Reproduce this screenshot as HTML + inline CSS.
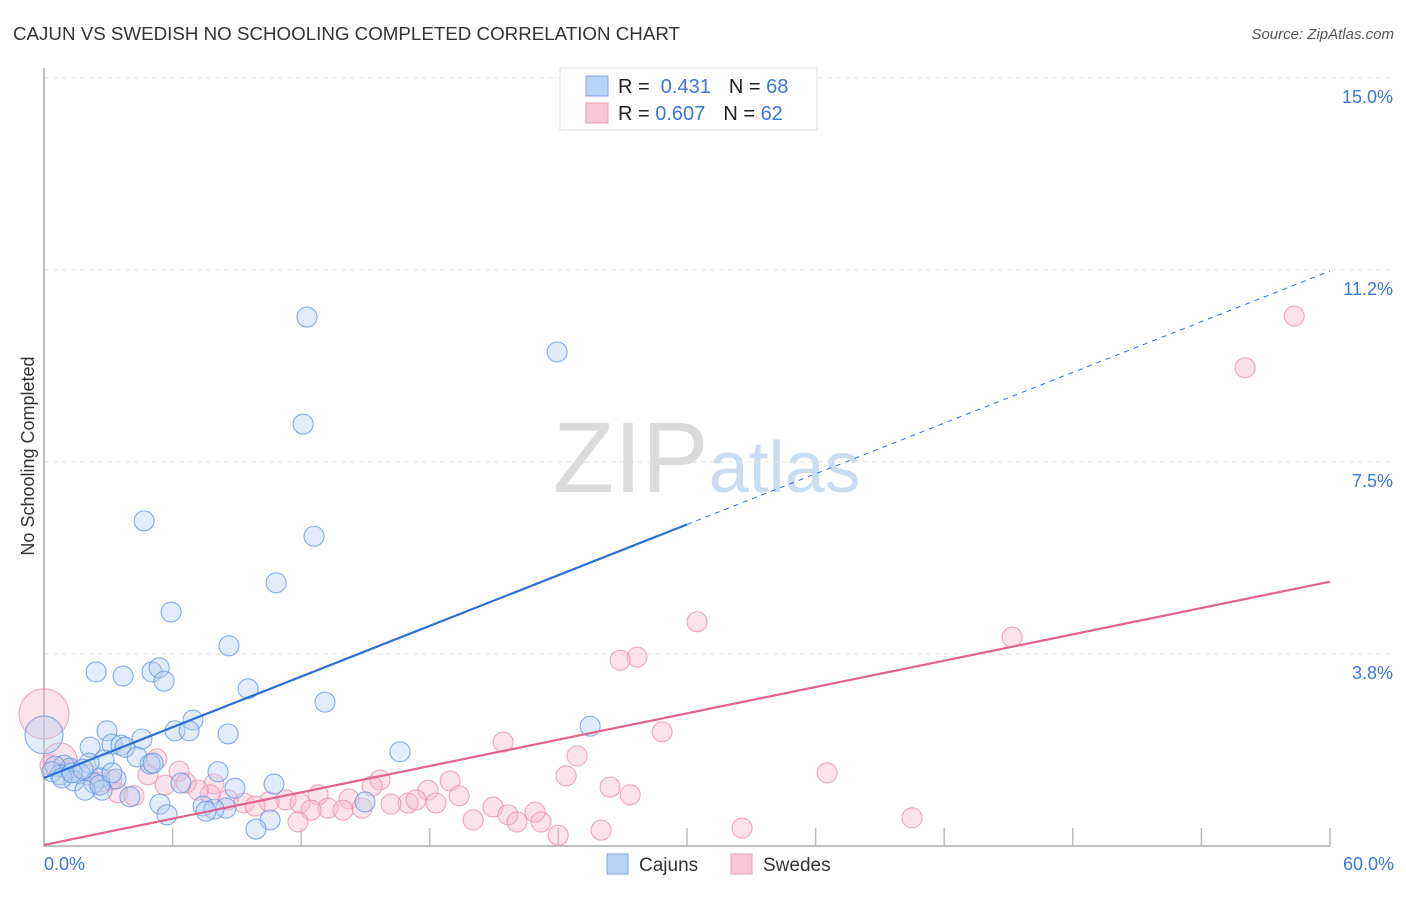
<!DOCTYPE html>
<html><head><meta charset="utf-8"><style>
body{margin:0;background:#fff;font-family:"Liberation Sans",sans-serif}
svg text{font-family:"Liberation Sans",sans-serif}
</style></head><body>
<svg id="chart" width="1406" height="892" viewBox="0 0 1406 892" xmlns="http://www.w3.org/2000/svg">
<text x="13" y="40" font-size="18" fill="#333" textLength="667" lengthAdjust="spacingAndGlyphs">CAJUN VS SWEDISH NO SCHOOLING COMPLETED CORRELATION CHART</text>
<text x="1394" y="39" font-size="15" fill="#555" font-style="italic" text-anchor="end">Source: ZipAtlas.com</text>
<text x="553" y="492" font-size="100" fill="#dadada" font-family="Liberation Serif">ZIP<tspan fill="#c9dcf3" font-family="Liberation Sans" font-size="72">atlas</tspan></text>
<text transform="translate(34,456) rotate(-90)" font-size="18" fill="#333" text-anchor="middle">No Schooling Completed</text>
<g id="grid"></g><g id="axes"></g><g id="pts"></g><g id="trend"></g>
<g>
<rect x="560" y="68" width="257" height="62" fill="#fff" stroke="#ddd"/>
<rect x="586" y="76" width="22" height="20" fill="#b9d3f5" stroke="#7aa7e6"/>
<rect x="586" y="103" width="22" height="20" fill="#f9c6d6" stroke="#ec9ab5"/>
<text x="618" y="93" font-size="20" fill="#222">R = <tspan fill="#3a78d8">&#160;0.431</tspan><tspan dx="18">N = </tspan><tspan fill="#3a78d8">68</tspan></text>
<text x="618" y="120" font-size="20" fill="#222">R = <tspan fill="#3a78d8">0.607</tspan><tspan dx="18">N = </tspan><tspan fill="#3a78d8">62</tspan></text>
</g>
<g>
<rect x="607" y="854" width="21" height="20" fill="#b9d3f5" stroke="#7aa7e6"/>
<text x="639" y="871" font-size="19" fill="#333">Cajuns</text>
<rect x="731" y="854" width="21" height="20" fill="#f9c6d6" stroke="#ec9ab5"/>
<text x="763" y="871" font-size="19" fill="#333">Swedes</text>
</g>
</svg>
<script>
const xTicks=[0,6,12,18,24,30,36,42,48,54,60];
const yTicks=[3.75,7.5,11.25,15];
const yTickLabels=["3.8%","7.5%","11.2%","15.0%"];
const xEndLabels=["0.0%","60.0%"];
const cajunX=[12.27,23.94,12.09,4.67,12.60,10.83,5.93,8.63,2.43,3.69,5.04,5.37,5.60,9.52,13.11,25.48,2.94,6.95,8.59,6.11,6.77,4.57,3.17,3.59,3.78,2.15,16.61,4.34,4.95,5.09,2.80,0.93,2.10,1.21,0.51,1.68,0.75,2.61,3.36,1.40,2.33,8.12,6.39,8.91,10.73,2.71,4.01,5.41,14.98,7.42,8.49,7.93,7.56,5.74,10.55,9.89,0,0.37,1.91,0.84,2.61,1.31,3.17,1.82];
const cajunY=[10.33,9.65,8.24,6.35,6.05,5.14,4.57,3.91,3.40,3.32,3.40,3.48,3.22,3.07,2.81,2.34,2.25,2.46,2.19,2.25,2.25,2.09,1.99,1.97,1.93,1.93,1.84,1.74,1.60,1.62,1.68,1.58,1.62,1.52,1.56,1.41,1.39,1.33,1.31,1.27,1.23,1.45,1.23,1.13,1.21,1.09,0.96,0.82,0.86,0.78,0.74,0.72,0.68,0.61,0.51,0.33,2.17,1.45,1.09,1.33,1.19,1.43,1.43,1.50];
const cajunSize=[];cajunSize[56]=19;
const swedeX=[58.33,56.04,30.47,45.17,27.67,26.88,28.84,21.42,24.87,36.54,0,0.75,5.27,6.30,4.85,6.63,7.93,15.68,18.95,15.31,26.41,24.36,17.92,27.35,19.37,12.79,14.23,11.29,3.45,4.20,7.75,8.59,9.33,10.50,11.95,16.99,16.19,17.36,18.29,22.91,13.25,13.95,14.84,9.85,12.46,20.95,21.65,20.02,22.07,11.85,23.19,25.99,23.99,32.57,40.50,2.05,2.61,1.21,3.17,5.65,7.19,0.28];
const swedeY=[10.35,9.34,4.38,4.08,3.69,3.63,2.23,2.03,1.76,1.43,2.58,1.68,1.70,1.46,1.39,1.23,1.21,1.29,1.27,1.17,1.15,1.37,1.09,1.00,0.98,1.00,0.92,0.90,1.04,0.98,1.00,0.90,0.84,0.86,0.84,0.84,0.82,0.90,0.84,0.66,0.74,0.70,0.74,0.78,0.70,0.76,0.61,0.51,0.47,0.47,0.47,0.31,0.21,0.35,0.55,1.39,1.25,1.48,1.29,1.19,1.09,1.58];
const swedeSize=[];swedeSize[10]=25;swedeSize[11]=17;
const cajunTrend=[1.33,0.165];
const swedeTrend=[0.02,0.0857];
const NS="http://www.w3.org/2000/svg";
const X=v=>44+v*(1286/60), Y=v=>846-v*51.2;
function mk(tag,parent,attrs){const e=document.createElementNS(NS,tag);for(const k in attrs)e.setAttribute(k,attrs[k]);document.getElementById(parent).appendChild(e);return e;}
yTicks.forEach((t,i)=>{
 const l=mk('line','grid',{x1:44,x2:1394,y1:Y(t),y2:Y(t),stroke:'#e2e2e2','stroke-dasharray':'5,4'});
 
 
 const tx=mk('text','grid',{x:1393,y:Y(t)+25,'font-size':18,fill:'#3a78d8','text-anchor':'end'});
 tx.textContent=yTickLabels[i];
 
 
});
const ax=mk('path','axes',{d:`M44,68V846H1330`,stroke:'#aaa',fill:'none','stroke-width':1.5});


xTicks.slice(1).forEach(t=>{
 const l=mk('line','axes',{x1:X(t),x2:X(t),y1:828,y2:846,stroke:'#bbb','stroke-width':1.5});
 
 
});
[[0,'start',44],[60,'end',1394]].forEach((p,i)=>{
 const tx=mk('text','axes',{x:p[2],y:870,'font-size':18,fill:'#3a78d8','text-anchor':p[1]});
 tx.textContent=xEndLabels[i];
 
 
});
function pts(xs,ys,sz,fill,stroke,name){
 xs.forEach((x,i)=>{
  const c=mk('circle','pts',{cx:X(x),cy:Y(ys[i]),r:sz[i]||10,fill:fill,'fill-opacity':0.4,stroke:stroke,'stroke-width':1.1,'stroke-opacity':0.75});
  
  
 });
}
pts(swedeX,swedeY,swedeSize,'#f7b8cc','#e88aa8','swede-point');
pts(cajunX,cajunY,cajunSize,'#b4cff3','#5b93e0','cajun-point');
const b1=mk('line','trend',{x1:X(0),y1:Y(cajunTrend[0]),x2:X(30),y2:Y(cajunTrend[0]+30*cajunTrend[1]),stroke:'#2a6fd6','stroke-width':2.2});


const b2=mk('line','trend',{x1:X(30),y1:Y(cajunTrend[0]+30*cajunTrend[1]),x2:X(60),y2:Y(cajunTrend[0]+60*cajunTrend[1]),stroke:'#2a6fd6','stroke-width':1,'stroke-dasharray':'5,5'});


const p1=mk('line','trend',{x1:X(0),y1:Y(swedeTrend[0]),x2:X(60),y2:Y(swedeTrend[0]+60*swedeTrend[1]),stroke:'#e2628e','stroke-width':2.2});


</script>
</body></html>
